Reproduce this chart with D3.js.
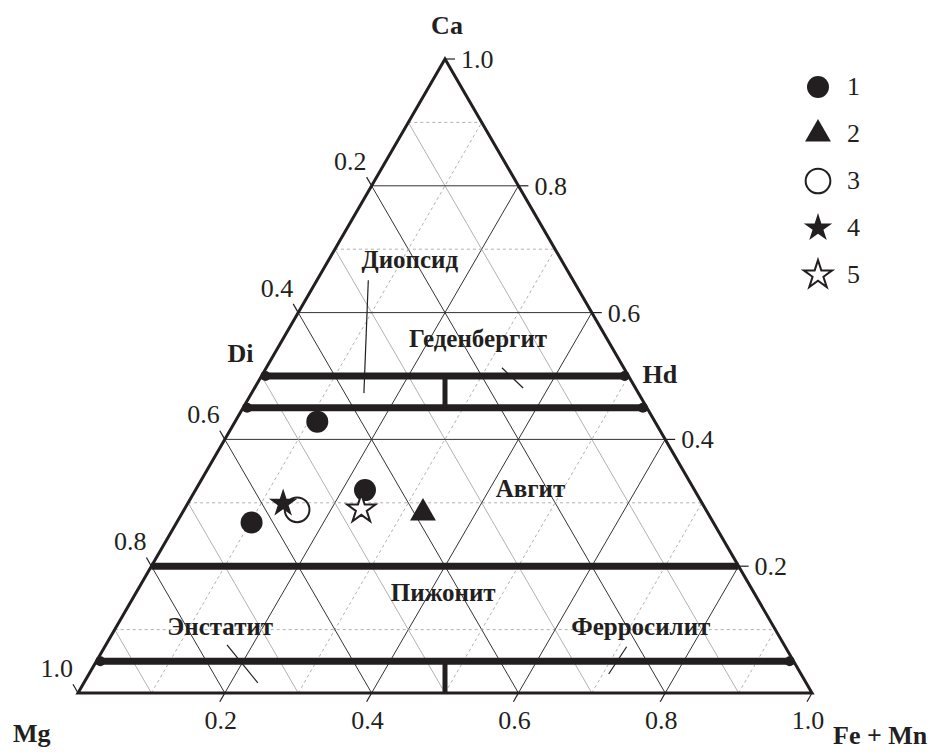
<!DOCTYPE html>
<html>
<head>
<meta charset="utf-8">
<script src="https://cdn.jsdelivr.net/npm/d3@7"></script>
<style>
  body { margin: 0; background: #fff; }
  text { font-family: "Liberation Serif", "Times New Roman", Times, serif; fill: #231f20; }
  .tick { font-size: 26px; }
  .zone { font-size: 25px; font-weight: bold; }
  .vertex { font-size: 26px; font-weight: bold; }
</style>
</head>
<body>
<svg width="930" height="752"></svg>
<script>
// ---- data (ternary: ca = Ca, fe = Fe+Mn, mg = 1 - ca - fe) ----
var tickValues = [0.2, 0.4, 0.6, 0.8, 1.0];
var tickLabels = ["0.2", "0.4", "0.6", "0.8", "1.0"];
var boundaries = [0.5, 0.45, 0.2, 0.05];        // Ca levels of field borders
var boundaryDots = [0.5, 0.45, 0.05];
var dividers = [[0.45, 0.5], [0, 0.05]];         // Ca ranges of Mg = Fe bars

var group1 = [{ca: 0.428, fe: 0.112}, {ca: 0.320, fe: 0.231}, {ca: 0.269, fe: 0.102}];
var group2 = [{ca: 0.284, fe: 0.328}];
var group3 = [{ca: 0.289, fe: 0.154}];
var group4 = [{ca: 0.299, fe: 0.130}];
var group5 = [{ca: 0.290, fe: 0.241}];
var legendNames = ["1", "2", "3", "4", "5"];

var zoneNames = ["Диопсид", "Геденбергит", "Авгит", "Пижонит", "Энстатит", "Ферросилит"];
var zonePos = [[0.670, 0.117], [0.546, 0.272], [0.309, 0.462], [0.145, 0.425], [0.0915, 0.148], [0.0915, 0.721]];
var leaders = [
  [[0.651, 0.070], [0.473, 0.153]],
  [[0.513, 0.321], [0.481, 0.366]],
  [[0.076, 0.165], [0.016, 0.237]],
  [[0.073, 0.711], [0.030, 0.708]]
];

var svg = d3.select("svg");
var ink = "#231f20";

var x = d3.scaleLinear().domain([0, 1]).range([78, 812]);
var y = d3.scaleLinear().domain([0, 1]).range([693, 59]);
function pt(ca, fe) { return [x(fe + ca / 2), y(ca)]; }

var grid = svg.append("g");
function gline(a, b, even, dashed) {
  grid.append("line")
    .attr("x1", a[0]).attr("y1", a[1]).attr("x2", b[0]).attr("y2", b[1])
    .attr("stroke", even ? "#333" : "#a8a8a8")
    .attr("stroke-width", even ? 1 : 0.9)
    .attr("stroke-dasharray", (!even && dashed) ? "3,3" : null);
}
d3.range(1, 10).forEach(function (k) {
  var v = k / 10, even = k % 2 === 0;
  gline(pt(v, 0), pt(v, 1 - v), even, true);       // Ca = v
  gline(pt(1 - v, 0), pt(0, 1 - v), even, false);  // Mg = v
  gline(pt(0, v), pt(1 - v, v), even, true);       // Fe = v
});

// thick field borders
boundaries.forEach(function (c) {
  var a = pt(c, 0), b = pt(c, 1 - c);
  svg.append("line").attr("x1", a[0]).attr("y1", a[1]).attr("x2", b[0]).attr("y2", b[1])
    .attr("stroke", ink).attr("stroke-width", 7);
});
boundaryDots.forEach(function (c) {
  var a = pt(c, 0), b = pt(c, 1 - c);
  svg.append("circle").attr("cx", a[0] + 4).attr("cy", a[1]).attr("r", 5).attr("fill", ink);
  svg.append("circle").attr("cx", b[0] - 4).attr("cy", b[1]).attr("r", 5).attr("fill", ink);
});
dividers.forEach(function (d) {
  var a = pt(d[0], (1 - d[0]) / 2), b = pt(d[1], (1 - d[1]) / 2);
  svg.append("line").attr("x1", a[0]).attr("y1", a[1]).attr("x2", b[0]).attr("y2", b[1])
    .attr("stroke", ink).attr("stroke-width", 5);
});

// triangle frame
svg.append("path")
  .attr("d", d3.line()([pt(1, 0), pt(0, 0), pt(0, 1)]) + "Z")
  .attr("fill", "none").attr("stroke", ink).attr("stroke-width", 3);

// ticks and tick labels
var axes = svg.append("g");
tickValues.forEach(function (v, i) {
  var r = pt(v, 1 - v);            // right side: Ca
  axes.append("line").attr("x1", r[0]).attr("y1", r[1]).attr("x2", r[0] + 10).attr("y2", r[1])
    .attr("stroke", ink).attr("stroke-width", 1.2);
  axes.append("text").attr("class", "tick").attr("x", r[0] + 16).attr("y", r[1] + 9).text(tickLabels[i]);

  var l = pt(1 - v, 0);            // left side: Mg
  axes.append("line").attr("x1", l[0]).attr("y1", l[1]).attr("x2", l[0] - 5).attr("y2", l[1] - 8.7)
    .attr("stroke", ink).attr("stroke-width", 1.2);
  axes.append("text").attr("class", "tick").attr("text-anchor", "end")
    .attr("x", l[0] - 5).attr("y", l[1] - 16).text(tickLabels[i]);

  var b = pt(0, v);                // bottom: Fe + Mn
  axes.append("line").attr("x1", b[0]).attr("y1", b[1]).attr("x2", b[0] - 5).attr("y2", b[1] + 8.7)
    .attr("stroke", ink).attr("stroke-width", 1.2);
  axes.append("text").attr("class", "tick").attr("text-anchor", "middle")
    .attr("x", b[0] - 4).attr("y", b[1] + 36).text(tickLabels[i]);
});

// field names and leader lines
zoneNames.forEach(function (n, i) {
  var p = pt(zonePos[i][0], zonePos[i][1]);
  svg.append("text").attr("class", "zone").attr("text-anchor", "middle")
    .attr("x", p[0]).attr("y", p[1]).text(n);
});
leaders.forEach(function (d) {
  var a = pt(d[0][0], d[0][1]), b = pt(d[1][0], d[1][1]);
  svg.append("line").attr("x1", a[0]).attr("y1", a[1]).attr("x2", b[0]).attr("y2", b[1])
    .attr("stroke", ink).attr("stroke-width", 1.2);
});

// vertex labels
var apex = pt(1, 0), vMg = pt(0, 0), vFe = pt(0, 1);
var di = pt(0.5, 0), hd = pt(0.5, 0.5);
svg.append("text").attr("class", "vertex").attr("text-anchor", "middle").attr("x", apex[0] + 2).attr("y", apex[1] - 25).text("Ca");
svg.append("text").attr("class", "vertex").attr("x", vMg[0] - 65).attr("y", vMg[1] + 49).text("Mg");
svg.append("text").attr("class", "vertex").attr("x", vFe[0] + 21).attr("y", vFe[1] + 51).text("Fe + Mn");
svg.append("text").attr("class", "vertex").attr("x", di[0] - 34).attr("y", di[1] - 14).text("Di");
svg.append("text").attr("class", "vertex").attr("x", hd[0] + 14).attr("y", hd[1] + 7).text("Hd");

// symbols
var styles = [
  {type: d3.symbolCircle, size: 380, fill: ink, stroke: "none"},
  {type: d3.symbolTriangle, size: 290, fill: ink, stroke: "none"},
  {type: d3.symbolCircle, size: 480, fill: "none", stroke: ink},
  {type: d3.symbolStar, size: 250, fill: ink, stroke: "none"},
  {type: d3.symbolStar, size: 250, fill: "#fff", stroke: ink}
];
var groups = [group1, group2, group4, group3, group5];
var order = [0, 1, 3, 2, 4];
groups.forEach(function (g, i) {
  var s = styles[order[i]];
  svg.append("g").selectAll("path").data(g).join("path")
    .attr("transform", function (d) { var p = pt(d.ca, d.fe); return "translate(" + p[0] + "," + p[1] + ")"; })
    .attr("d", d3.symbol().type(s.type).size(s.size))
    .attr("fill", s.fill).attr("stroke", s.stroke).attr("stroke-width", 2);
});

// legend
var legend = svg.append("g").attr("transform", "translate(818,87)");
legendNames.forEach(function (n, i) {
  var s = styles[i];
  legend.append("path").attr("transform", "translate(0," + (i * 47) + ")")
    .attr("d", d3.symbol().type(s.type).size(s.size))
    .attr("fill", s.fill).attr("stroke", s.stroke).attr("stroke-width", 2);
  legend.append("text").attr("class", "tick").attr("x", 29).attr("y", i * 47 + 8).text(n);
});
</script>
</body>
</html>
